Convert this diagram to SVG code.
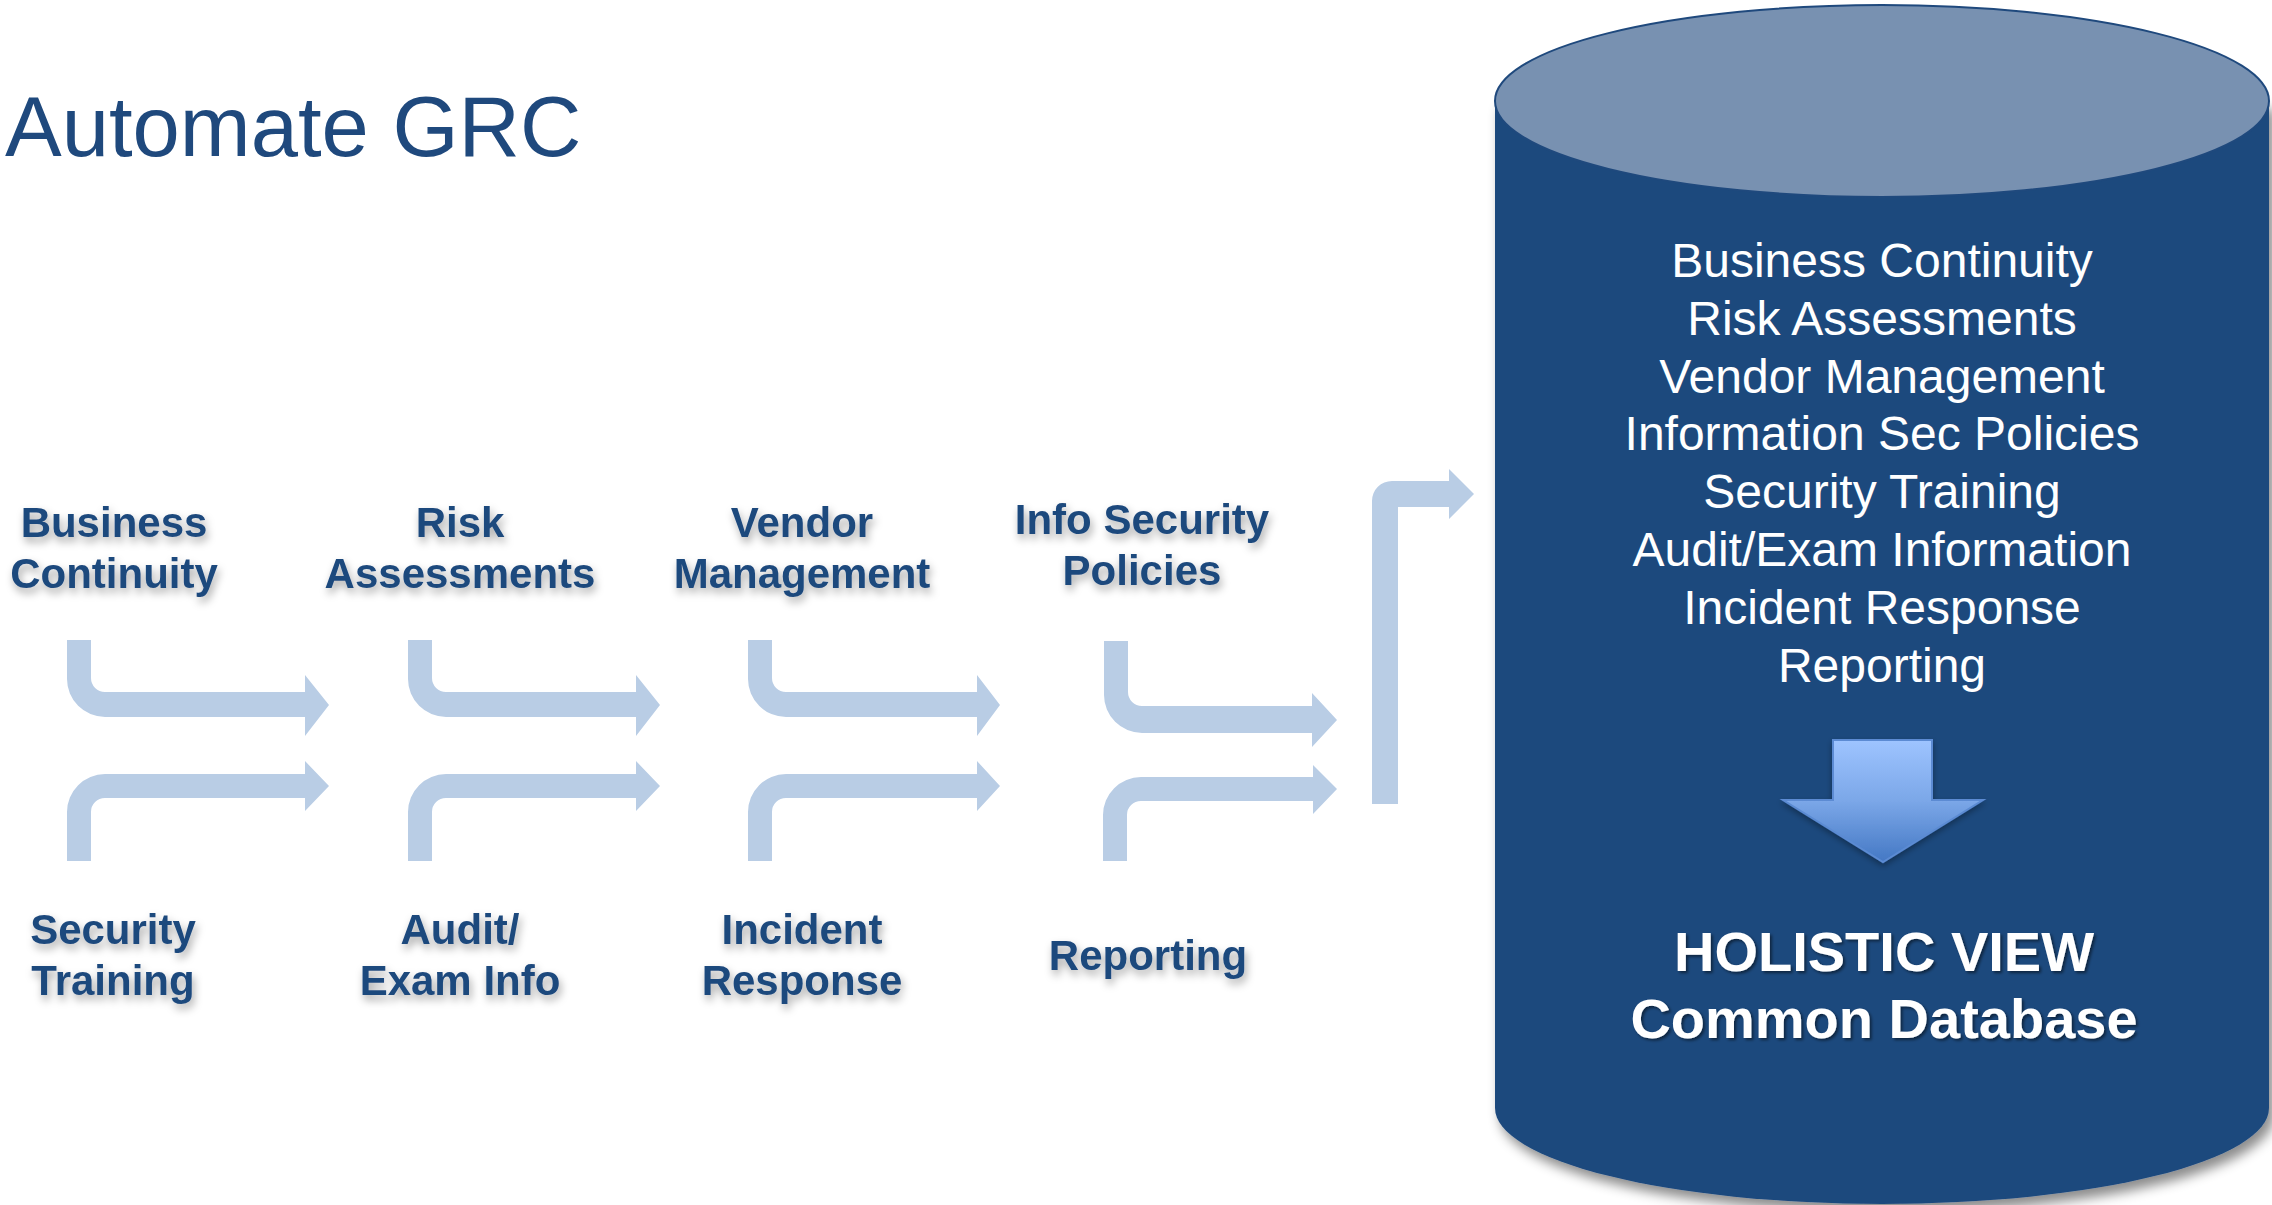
<svg xmlns="http://www.w3.org/2000/svg" width="2272" height="1205" viewBox="0 0 2272 1205">
  <defs>
    <style>
      .title { font-family: "Liberation Sans", Arial, sans-serif; font-size: 85px; fill: #1F497D; }
      .lbl { font-family: "Liberation Sans", Arial, sans-serif; font-size: 42px; font-weight: bold; fill: #1F497D; text-anchor: middle; }
      .dbl { font-family: "Liberation Sans", Arial, sans-serif; font-size: 48px; fill: #FFFFFF; text-anchor: middle; }
      .hol { font-family: "Liberation Sans", Arial, sans-serif; font-size: 56px; font-weight: bold; fill: #FFFFFF; text-anchor: middle; }
      .arr { fill: #B9CDE5; }
    </style>
    <filter id="tshadow" x="-20%" y="-40%" width="140%" height="200%">
      <feDropShadow dx="2" dy="5" stdDeviation="4" flood-color="#000000" flood-opacity="0.35"/>
    </filter>
    <filter id="hshadow" x="-10%" y="-20%" width="120%" height="150%">
      <feDropShadow dx="2" dy="2" stdDeviation="1.5" flood-color="#000000" flood-opacity="0.5"/>
    </filter>
    <filter id="cshadow" x="-5%" y="-5%" width="115%" height="115%">
      <feDropShadow dx="5" dy="8" stdDeviation="6" flood-color="#000000" flood-opacity="0.45"/>
    </filter>
    <filter id="ashadow" x="-20%" y="-20%" width="140%" height="140%">
      <feDropShadow dx="0" dy="3" stdDeviation="3" flood-color="#000000" flood-opacity="0.35"/>
    </filter>
    <linearGradient id="downGrad" x1="0" y1="0" x2="0" y2="1">
      <stop offset="0" stop-color="#9EC4FF"/>
      <stop offset="0.5" stop-color="#7BA7E8"/>
      <stop offset="1" stop-color="#4478C4"/>
    </linearGradient>
  </defs>

  <rect x="0" y="0" width="2272" height="1205" fill="#FFFFFF"/>

  <g id="title">
    <text class="title" x="5" y="156">Automate GRC</text>
  </g>

  <g id="database">
    <path d="M 1495 101 V 1108 A 387 96 0 0 0 2269 1108 V 101 Z" fill="#1F497D" filter="url(#cshadow)"/>
    <ellipse cx="1882" cy="101" rx="387" ry="96" fill="#7891B1" stroke="#1F497D" stroke-width="2"/>
    <text class="dbl" x="1882" y="277">Business Continuity</text>
    <text class="dbl" x="1882" y="335">Risk Assessments</text>
    <text class="dbl" x="1882" y="393">Vendor Management</text>
    <text class="dbl" x="1882" y="450">Information Sec Policies</text>
    <text class="dbl" x="1882" y="508">Security Training</text>
    <text class="dbl" x="1882" y="566">Audit/Exam Information</text>
    <text class="dbl" x="1882" y="624">Incident Response</text>
    <text class="dbl" x="1882" y="682">Reporting</text>
    <path d="M 1833 740 H 1932 V 800 H 1983 L 1883 862 L 1783 800 H 1833 Z" fill="url(#downGrad)" stroke="#5B8BD3" stroke-width="2" filter="url(#ashadow)"/>
    <g filter="url(#hshadow)">
      <text class="hol" x="1884" y="971">HOLISTIC VIEW</text>
      <text class="hol" x="1884" y="1038">Common Database</text>
    </g>
  </g>

  <g id="node-business-continuity" filter="url(#tshadow)">
    <text class="lbl" x="114" y="537">Business</text>
    <text class="lbl" x="114" y="588">Continuity</text>
  </g>
  <g id="node-risk-assessments" filter="url(#tshadow)">
    <text class="lbl" x="460" y="537">Risk</text>
    <text class="lbl" x="460" y="588">Assessments</text>
  </g>
  <g id="node-vendor-management" filter="url(#tshadow)">
    <text class="lbl" x="802" y="537">Vendor</text>
    <text class="lbl" x="802" y="588">Management</text>
  </g>
  <g id="node-info-security-policies" filter="url(#tshadow)">
    <text class="lbl" x="1142" y="534">Info Security</text>
    <text class="lbl" x="1142" y="585">Policies</text>
  </g>
  <g id="node-security-training" filter="url(#tshadow)">
    <text class="lbl" x="113" y="944">Security</text>
    <text class="lbl" x="113" y="995">Training</text>
  </g>
  <g id="node-audit-exam-info" filter="url(#tshadow)">
    <text class="lbl" x="460" y="944">Audit/</text>
    <text class="lbl" x="460" y="995">Exam Info</text>
  </g>
  <g id="node-incident-response" filter="url(#tshadow)">
    <text class="lbl" x="802" y="944">Incident</text>
    <text class="lbl" x="802" y="995">Response</text>
  </g>
  <g id="node-reporting" filter="url(#tshadow)">
    <text class="lbl" x="1148" y="970">Reporting</text>
  </g>

  <g id="connectors">
    <!-- column 1 -->
    <path class="arr" d="M 67 640 H 91 V 678 A 14 14 0 0 0 105 692 H 305 V 675 L 329 705 L 305 736 V 717 H 105 A 38 38 0 0 1 67 679 Z"/>
    <path class="arr" d="M 67 861 V 812 A 38 38 0 0 1 105 774 H 305 V 761 L 329 786 L 305 811 V 798 H 105 A 14 14 0 0 0 91 812 V 861 Z"/>
    <!-- column 2 -->
    <path class="arr" d="M 408 640 H 432 V 678 A 14 14 0 0 0 446 692 H 636 V 675 L 660 705 L 636 736 V 717 H 446 A 38 38 0 0 1 408 679 Z"/>
    <path class="arr" d="M 408 861 V 812 A 38 38 0 0 1 446 774 H 636 V 761 L 660 786 L 636 811 V 798 H 446 A 14 14 0 0 0 432 812 V 861 Z"/>
    <!-- column 3 -->
    <path class="arr" d="M 748 640 H 772 V 678 A 14 14 0 0 0 786 692 H 977 V 675 L 1000 705 L 977 736 V 717 H 786 A 38 38 0 0 1 748 679 Z"/>
    <path class="arr" d="M 748 861 V 812 A 38 38 0 0 1 786 774 H 977 V 761 L 1000 786 L 977 811 V 798 H 786 A 14 14 0 0 0 772 812 V 861 Z"/>
    <!-- column 4 -->
    <path class="arr" d="M 1104 641 H 1128 V 692 A 14 14 0 0 0 1142 706 H 1312 V 693 L 1337 720 L 1312 747 V 733 H 1142 A 38 38 0 0 1 1104 695 Z"/>
    <path class="arr" d="M 1103 861 V 815 A 38 38 0 0 1 1141 777 H 1313 V 765 L 1337 789 L 1313 814 V 801 H 1141 A 14 14 0 0 0 1127 815 V 861 Z"/>
    <!-- merge arrow to database -->
    <path class="arr" d="M 1372 804 V 501 A 20 20 0 0 1 1392 481 H 1449 V 469 L 1474 494 L 1449 519 V 507 H 1398 V 804 Z"/>
  </g>
</svg>
